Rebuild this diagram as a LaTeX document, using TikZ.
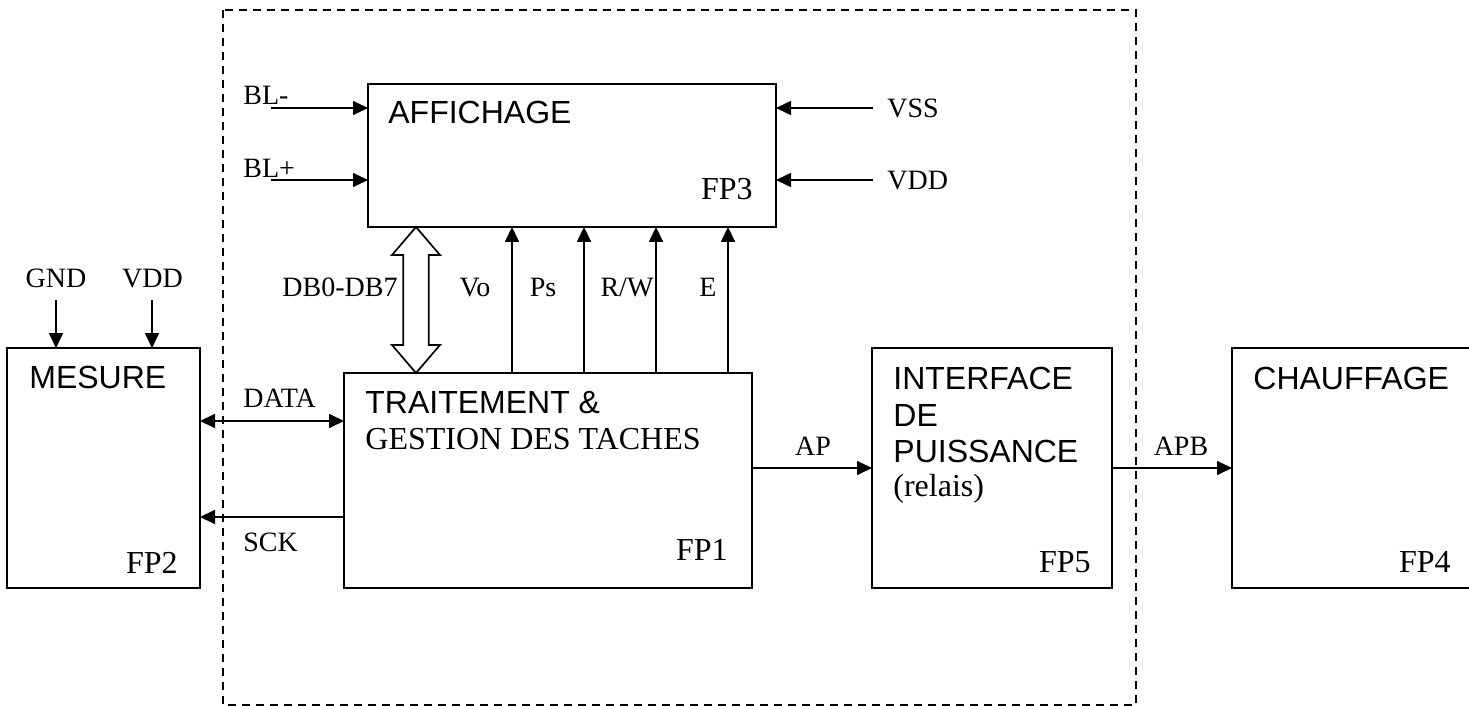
\documentclass[tikz,border=0pt]{standalone}
\usepackage{fontspec}
\setmainfont{Liberation Serif}
\newfontfamily\arialfont{Liberation Sans}
\usetikzlibrary{arrows.meta,calc}
\tikzset{
  box/.style={draw, line width=1pt, inner sep=0pt, outer sep=0pt},
  arr/.style={line width=0.85pt, -{Triangle[length=7.5pt,width=7pt]}},
  darr/.style={line width=0.85pt, {Triangle[length=7.5pt,width=7pt]}-{Triangle[length=7.5pt,width=7pt]}},
  sig/.style={inner sep=0pt, font=\fontsize{14}{16}\selectfont},
  big/.style={inner sep=0pt, font=\fontsize{16}{18}\selectfont},
  bigsf/.style={inner sep=0pt, font=\arialfont\fontsize{16}{18}\selectfont},
  frame/.style={line width=1pt, dash pattern=on 4pt off 3pt},
  fat/.style={line width=0.85pt, line join=miter, fill=white},
}
\begin{document}
\begin{tikzpicture}[x=0.5pt, y=-0.5pt]
\useasboundingbox (0,0) rectangle (1469,706);
\fill[white] (0,0) rectangle (1469,706);
\clip (0,0) rectangle (1469,706);

% dashed frame
\draw[frame] (223,10) rectangle (1136,705);

% boxes
\node[box, minimum width={408*0.5pt}, minimum height={143*0.5pt}] (fp3) at (572,155.5) {};
\node[box, minimum width={408*0.5pt}, minimum height={215*0.5pt}] (fp1) at (548,480.5) {};
\node[box, minimum width={193*0.5pt}, minimum height={240*0.5pt}] (fp2) at (103.5,468) {};
\node[box, minimum width={240*0.5pt}, minimum height={240*0.5pt}] (fp5) at (992,468) {};
\node[box, minimum width={248*0.5pt}, minimum height={240*0.5pt}] (fp4) at (1356,468) {};

% box texts
\node[bigsf, anchor=base west] (taff) at (388,124) {AFFICHAGE};
\node[big, anchor=base east] (tfp3) at (753,199) {FP3};
\node[bigsf, anchor=base west] (tmes) at (29,388) {MESURE};
\node[big, anchor=base east] (tfp2) at (178,573) {FP2};
\node[bigsf, anchor=base west] (ttrait) at (365,413) {TRAITEMENT \&};
\node[big, anchor=base west] (tgest) at (365,449) {GESTION DES TACHES};
\node[big, anchor=base east] (tfp1) at (728,560) {FP1};
\node[bigsf, anchor=base west] (tint) at (893,389) {INTERFACE};
\node[bigsf, anchor=base west] (tde) at (893,426) {DE};
\node[bigsf, anchor=base west] (tpuis) at (893,462) {PUISSANCE};
\node[big, anchor=base west] (trel) at (893,496) {(relais)};
\node[big, anchor=base east] (tfp5) at (1091,572) {FP5};
\node[bigsf, anchor=base west] (tchauf) at (1253,389) {CHAUFFAGE};
\node[big, anchor=base east] (tfp4) at (1451,572) {FP4};

% free ends of input arrows
\coordinate (blm) at (271,108);
\coordinate (blp) at (271,180);
\coordinate (vss) at (873,108);
\coordinate (vdd) at (873,180);
\coordinate (gnd) at (56,300);
\coordinate (vddm) at (152,300);

\draw[arr] (blm) -- (blm -| fp3.west);
\draw[arr] (blp) -- (blp -| fp3.west);
\draw[arr] (vss) -- (vss -| fp3.east);
\draw[arr] (vdd) -- (vdd -| fp3.east);
\draw[arr] (gnd) -- (gnd |- fp2.north);
\draw[arr] (vddm) -- (vddm |- fp2.north);

% control lines FP1 -> FP3
\coordinate (cvo) at (512,0);
\coordinate (cps) at (584,0);
\coordinate (crw) at (656,0);
\coordinate (ce) at (728,0);
\draw[arr] (cvo |- fp1.north) -- (cvo |- fp3.south);
\draw[arr] (cps |- fp1.north) -- (cps |- fp3.south);
\draw[arr] (crw |- fp1.north) -- (crw |- fp3.south);
\draw[arr] (ce |- fp1.north) -- (ce |- fp3.south);

% data bus (hollow double arrow)
\coordinate (dbx) at (416,0);
\coordinate (dbt) at (dbx |- fp3.south);
\coordinate (dbb) at (dbx |- fp1.north);
\draw[fat] (dbt) -- ($(dbt)+(24,28)$) -- ($(dbt)+(12.7,28)$) -- ($(dbb)+(12.7,-28)$)
  -- ($(dbb)+(24,-28)$) -- (dbb) -- ($(dbb)+(-24,-28)$) -- ($(dbb)+(-12.7,-28)$)
  -- ($(dbt)+(-12.7,28)$) -- ($(dbt)+(-24,28)$) -- cycle;

% DATA, SCK, AP, APB
\coordinate (ydata) at (0,421);
\coordinate (ysck) at (0,517);
\draw[darr] (fp2.east |- ydata) -- (fp1.west |- ydata);
\draw[arr] (fp1.west |- ysck) -- (fp2.east |- ysck);
\draw[arr] (fp1.east |- fp5.west) -- (fp5.west);
\draw[arr] (fp5.east) -- (fp4.west);

% signal labels
\node[sig, anchor=base west] (lblm) at (243,105) {BL-};
\node[sig, anchor=base west] (lblp) at (243,177) {BL+};
\node[sig, anchor=base west] (lvss) at (887,118) {VSS};
\node[sig, anchor=base west] (lvdd) at (887,190) {VDD};
\node[sig, anchor=base] (lgnd) at (56,287) {GND};
\node[sig, anchor=base] (lvddm) at (152.5,287) {VDD};
\node[sig, anchor=base east] (ldb) at (398,297) {DB0-DB7};
\node[sig, anchor=base] (lvo) at (475,297) {Vo};
\node[sig, anchor=base] (lps) at (543,297) {Ps};
\node[sig, anchor=base] (lrw) at (627,297) {R/W};
\node[sig, anchor=base] (le) at (708,297) {E};
\node[sig, anchor=base west] (ldata) at (243,407) {DATA};
\node[sig, anchor=base west] (lsck) at (243,551) {SCK};
\node[sig, anchor=base] (lap) at (813,455) {AP};
\node[sig, anchor=base] (lapb) at (1181,455) {APB};
\end{tikzpicture}
\end{document}
